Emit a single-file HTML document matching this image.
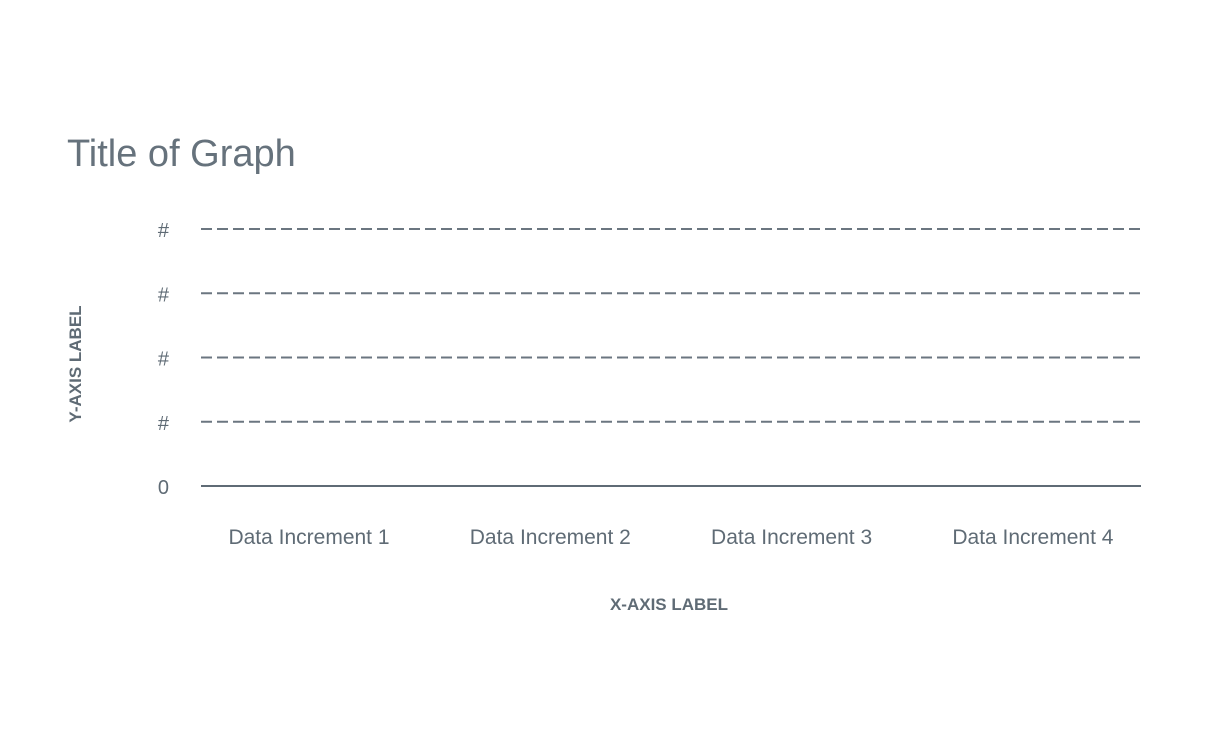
<!DOCTYPE html>
<html><head><meta charset="utf-8"><style>
html,body{margin:0;padding:0;background:#fff;width:1208px;height:752px;overflow:hidden}
text{font-family:"Liberation Sans",Arial,sans-serif;fill:#5f6b75}
</style></head><body>
<svg id="chart" width="1208" height="752" viewBox="0 0 1208 752" xmlns="http://www.w3.org/2000/svg">
<text x="67" y="166" font-size="38" style="fill:#66727c">Title of Graph</text>
<text transform="translate(81,364) rotate(-90)" text-anchor="middle" font-size="17" font-weight="bold">Y-AXIS LABEL</text>
<text x="669" y="610" text-anchor="middle" font-size="17" font-weight="bold">X-AXIS LABEL</text>
<g id="grid"></g><g id="yticks"></g><g id="xticks"></g>
</svg>
<script>
const categories=["Data Increment 1","Data Increment 2","Data Increment 3","Data Increment 4"];
const yTickValues=[0,1,2,3,4];
const yTickLabels=["0","#","#","#","#"];
const X0=201,X1=1141,Y0=486,Y1=229,YMAX=4;
function y(v){return Y0-(Y0-Y1)*v/YMAX;}
const band=241.3;
function x(i){return X0+108+band*i;}
const ns="http://www.w3.org/2000/svg";
const grid=document.getElementById('grid'),yt=document.getElementById('yticks'),xt=document.getElementById('xticks');
yTickValues.forEach((v,i)=>{
  const l=document.createElementNS(ns,'line');
  
  
  l.setAttribute('x1',X0);l.setAttribute('x2',X1);
  l.setAttribute('y1',y(v));l.setAttribute('y2',y(v));
  l.setAttribute('stroke',v===0?'#5f6b75':'#6b7680');
  l.setAttribute('stroke-width',2);
  if(v!==0)l.setAttribute('stroke-dasharray','11 5');
  grid.appendChild(l);
  const t=document.createElementNS(ns,'text');
  
  
  t.setAttribute('x',169);t.setAttribute('y',y(v)+8);
  t.setAttribute('text-anchor','end');t.setAttribute('font-size','20');
  t.textContent=yTickLabels[i];yt.appendChild(t);
});
categories.forEach((c,i)=>{
  const t=document.createElementNS(ns,'text');
  
  
  t.setAttribute('x',x(i));t.setAttribute('y',544);
  t.setAttribute('text-anchor','middle');t.setAttribute('font-size','21');
  t.textContent=c;xt.appendChild(t);
});
</script>
</body></html>
